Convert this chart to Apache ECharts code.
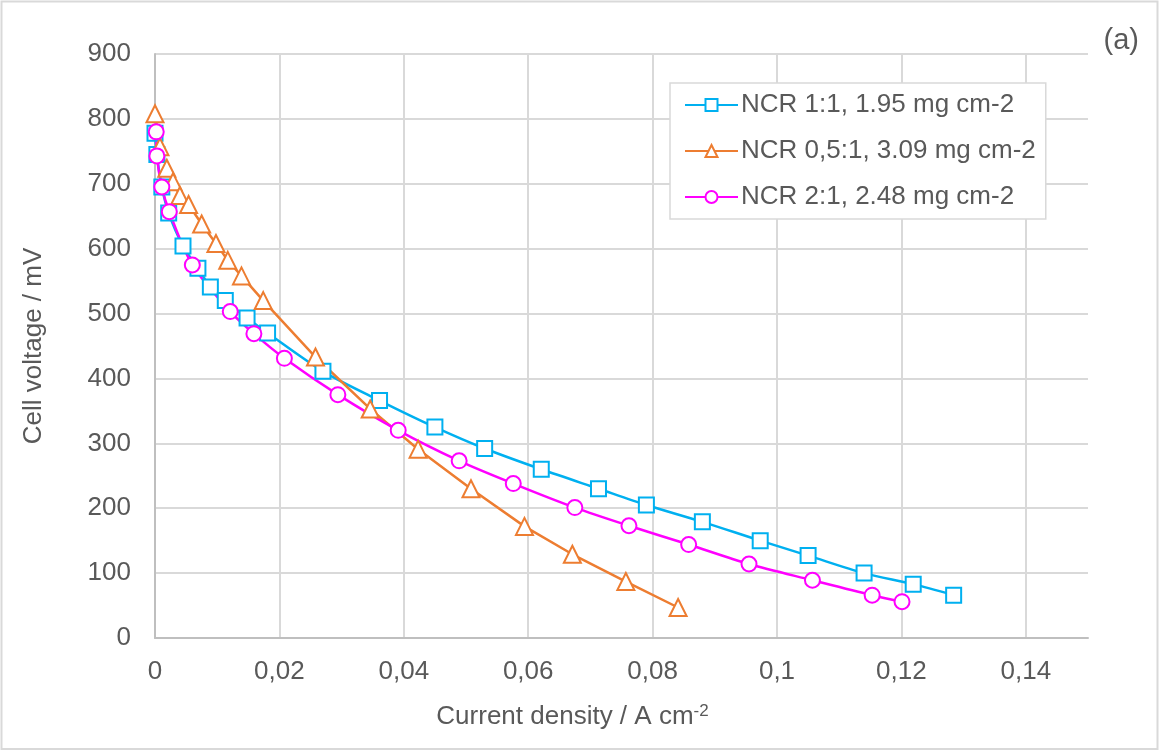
<!DOCTYPE html>
<html>
<head>
<meta charset="utf-8">
<script src="https://cdn.jsdelivr.net/npm/echarts@6/dist/echarts.min.js"></script>
<style>
html,body{margin:0;padding:0;background:#fff;}
#chart{width:1160px;height:751px;}
</style>
</head>
<body>
<div id="chart"></div>
<script>
// ---- data ----
const seriesNames = ['NCR 1:1, 1.95 mg cm-2', 'NCR 0,5:1, 3.09 mg cm-2', 'NCR 2:1, 2.48 mg cm-2'];

const blueX = [0.0000, 0.0003, 0.0011, 0.0022, 0.0045, 0.0069, 0.0089, 0.0113, 0.0148, 0.0181, 0.0270, 0.0361, 0.0450, 0.0530, 0.0621, 0.0713, 0.0790, 0.0880, 0.0973, 0.1050, 0.1140, 0.1219, 0.1284];
const blueY = [778, 745, 695, 655, 604, 570, 541, 520, 493, 470, 411, 366, 325, 292, 260, 230, 205, 179, 150, 127, 100, 83, 66];

const orangeX = [0.0000, 0.0008, 0.0019, 0.0029, 0.0040, 0.0054, 0.0075, 0.0098, 0.0117, 0.0139, 0.0174, 0.0258, 0.0346, 0.0423, 0.0508, 0.0594, 0.0671, 0.0757, 0.0841];
const orangeY = [808, 757, 724, 703, 682, 668, 638, 608, 582, 558, 520, 433, 353, 291, 230, 172, 129, 87, 47];

const magentaX = [0.0002, 0.0003, 0.0011, 0.0023, 0.0060, 0.0121, 0.0159, 0.0208, 0.0294, 0.0391, 0.0489, 0.0576, 0.0675, 0.0762, 0.0858, 0.0955, 0.1057, 0.1153, 0.1201];
const magentaY = [780, 743, 695, 657, 575, 503, 469, 431, 375, 320, 273, 238, 201, 173, 144, 114, 89, 66, 56];

const xTicks = [0, 0.02, 0.04, 0.06, 0.08, 0.1, 0.12, 0.14];
const yTicks = [0, 100, 200, 300, 400, 500, 600, 700, 800, 900];

// ---- chart ----
const FONT = 'Liberation Sans';
const FS = 26;
const TXT = '#595959';
const zip = (xs, ys) => xs.map((x, i) => [x, ys[i]]);

const chart = echarts.init(document.getElementById('chart'), null, {renderer: 'canvas'});

function mkSeries(name, data, color, symbol, symbolSize, smooth) {
  return {
    name: name,
    type: 'line',
    data: data,
    smooth: smooth,
    symbol: symbol,
    symbolSize: symbolSize,
    showAllSymbol: true,
    lineStyle: {color: color, width: 2.5},
    itemStyle: {color: color, borderColor: color, borderWidth: 2.5},
    emphasis: {disabled: true}
  };
}

chart.setOption({
  animation: false,
  backgroundColor: '#fff',
  textStyle: {fontFamily: FONT, color: TXT},
  graphic: [{
    type: 'rect',
    shape: {x: 1.5, y: 1.5, width: 1156, height: 747.5},
    style: {fill: 'none', stroke: '#d9d9d9', lineWidth: 2},
    silent: true
  }, {
    type: 'text',
    right: 21, top: 26,
    style: {text: '(a)', font: '29px "Liberation Sans"', fill: TXT}
  }],
  grid: {left: 155, right: 72, top: 54, bottom: 113},
  legend: {
    orient: 'vertical',
    left: 670, top: 83,
    padding: [9, 10, 9, 14],
    itemWidth: 53, itemHeight: 15, itemGap: 20,
    borderColor: '#d9d9d9', borderWidth: 1.5,
    backgroundColor: '#fff',
    textStyle: {fontFamily: FONT, fontSize: FS, color: TXT, padding: [0, 0, 0, -2]},
    data: seriesNames
  },
  xAxis: {
    type: 'value',
    min: 0, max: 0.15, interval: 0.02,
    name: 'Current density / A cm{sup|-2}',
    nameLocation: 'middle',
    nameGap: 65,
    nameTextStyle: {
      fontFamily: FONT, fontSize: FS, color: TXT,
      padding: [0, 98, 0, 0],
      rich: {sup: {fontFamily: FONT, fontSize: 17, color: TXT, verticalAlign: 'top', padding: [0, 0, 10, 0]}}
    },
    axisLine: {show: true, lineStyle: {color: '#bfbfbf', width: 2}},
    axisTick: {show: false},
    axisLabel: {
      fontFamily: FONT, fontSize: FS, color: TXT, margin: 21,
      showMaxLabel: false,
      formatter: v => xTicks.some(t => Math.abs(t - v) < 1e-9) ? (Math.abs(v) < 1e-12 ? '0' : String(+v.toFixed(2)).replace('.', ',')) : ''
    },
    splitLine: {show: true, showMaxLine: false, lineStyle: {color: '#d9d9d9', width: 2}}
  },
  yAxis: {
    type: 'value',
    min: 0, max: 900, interval: 100,
    name: 'Cell voltage / mV',
    nameLocation: 'middle',
    nameGap: 108,
    nameTextStyle: {fontFamily: FONT, fontSize: FS, color: TXT},
    axisLine: {show: true, lineStyle: {color: '#bfbfbf', width: 2}},
    axisTick: {show: false},
    axisLabel: {
      fontFamily: FONT, fontSize: FS, color: TXT, margin: 24,
      formatter: v => yTicks.includes(v) ? String(v) : ''
    },
    splitLine: {show: true, lineStyle: {color: '#d9d9d9', width: 2}}
  },
  series: [
    mkSeries(seriesNames[0], zip(blueX, blueY), '#00B0F0', 'emptyRect', 15, 0.3),
    mkSeries(seriesNames[1], zip(orangeX, orangeY), '#ED7D31', 'emptyTriangle', 17, false),
    mkSeries(seriesNames[2], zip(magentaX, magentaY), '#FF00FF', 'emptyCircle', 15, 0.3)
  ]
});
</script>
</body>
</html>
